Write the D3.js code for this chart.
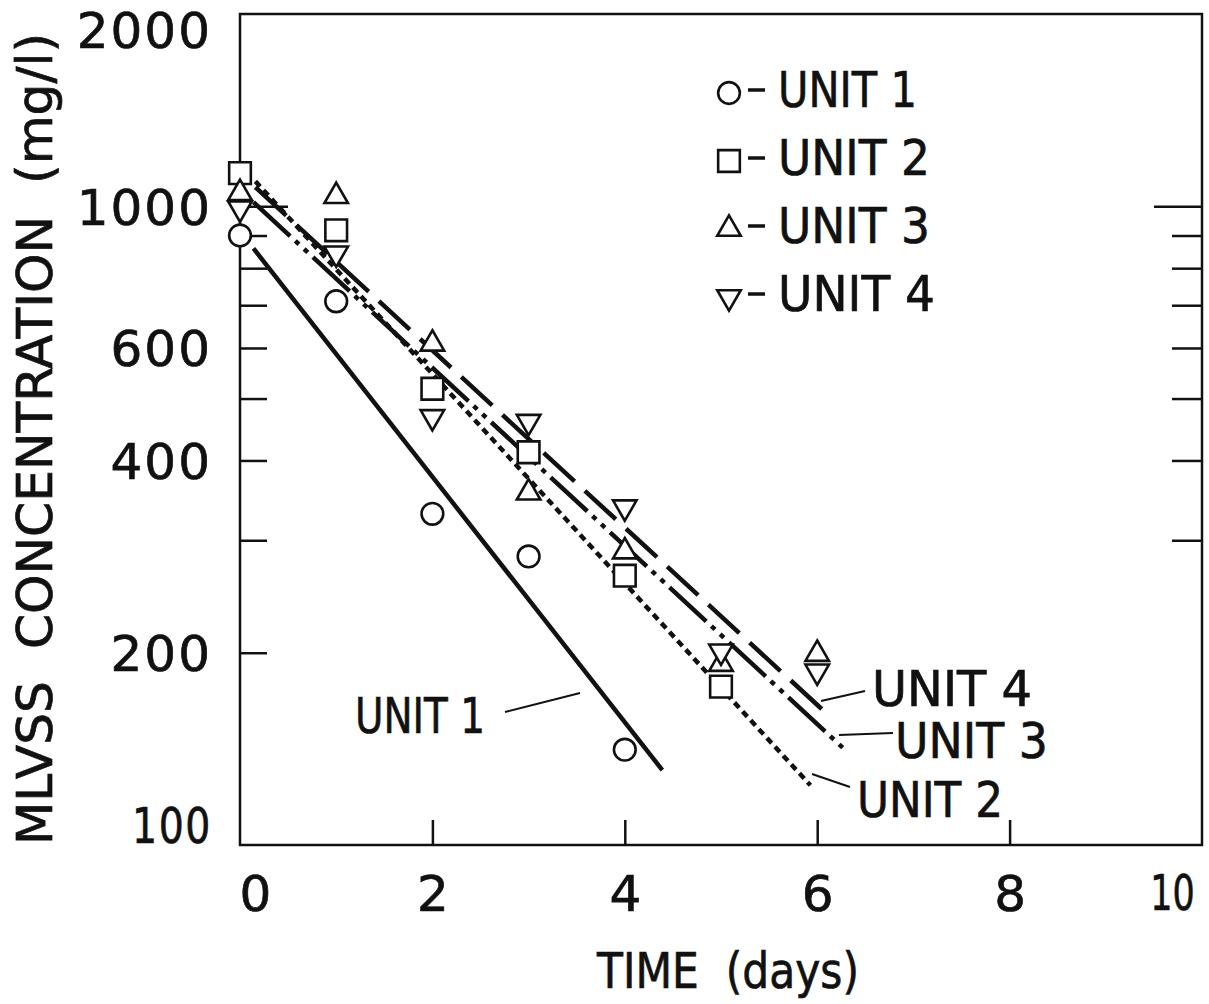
<!DOCTYPE html>
<html>
<head>
<meta charset="utf-8">
<script src="https://cdn.jsdelivr.net/npm/d3@7"></script>
<style>
  body { margin: 0; background: #fff; }
  text { font-family: "DejaVu Sans", sans-serif; fill: #111; stroke: #111; stroke-width: 0.7px; }
</style>
</head>
<body>
<div id="canvas"></div>
<script>
// measured points, MLVSS mg/l per day
let days = [0, 1, 2, 3, 4, 5, 6];
let unit1 = [900, 710, 330, 283, 141];
let unit2 = [1127, 917, 518, 412, 264, 177];
let unit3 = [1048, 1037, 609, 356, 288, 192, 199];
let unit4 = [993, 844, 468, 460, 338, 201, 187];

// fitted decay lines: [day, mg/l] at start and end
let fit1 = [[0.14, 859], [4.39, 131]];
let fit2 = [[0.16, 1094], [5.93, 124]];
let fit3 = [[0.14, 1015], [6.31, 140]];
let fit4 = [[0.16, 1071], [6.13, 159]];

let unitNames = ["UNIT 1", "UNIT 2", "UNIT 3", "UNIT 4"];
let xTicks = [0, 2, 4, 6, 8, 10];
let xInnerTicks = [2, 4, 6, 8];
let yLabels = [100, 200, 400, 600, 1000, 2000];
let yLeftTicks = [200, 300, 400, 500, 600, 700, 800, 900, 1000];
let yRightTicks = [300, 400, 500, 600, 700, 800, 900, 1000];

const W = 1209, H = 1004;
const svg = d3.select("#canvas").append("svg")
    .attr("width", W).attr("height", H);
svg.append("rect").attr("width", W).attr("height", H).attr("fill", "#fff");

const x = d3.scaleLinear().domain([0, 10]).range([240, 1202]);
const y = d3.scaleLog().domain([100, 2000]).range([845, 14]);

const ink = "#111";

// frame
svg.append("rect")
    .attr("x", x(0)).attr("y", y(2000))
    .attr("width", x(10) - x(0)).attr("height", y(100) - y(2000))
    .attr("fill", "none").attr("stroke", ink).attr("stroke-width", 2.5);

// inward ticks, left
svg.append("g")
    .attr("transform", `translate(${x(0)},0)`)
    .call(d3.axisRight(y).tickValues(yLeftTicks).tickFormat("").tickSizeOuter(0)
        .tickSize(27))
    .call(g => g.select(".domain").remove())
    .call(g => g.selectAll(".tick line").attr("stroke", ink).attr("stroke-width", 2.5)
        .attr("x2", d => d === 1000 ? 48 : 27));

// inward ticks, right
svg.append("g")
    .attr("transform", `translate(${x(10)},0)`)
    .call(d3.axisLeft(y).tickValues(yRightTicks).tickFormat("").tickSizeOuter(0)
        .tickSize(30))
    .call(g => g.select(".domain").remove())
    .call(g => g.selectAll(".tick line").attr("stroke", ink).attr("stroke-width", 2.5)
        .attr("x2", d => d === 1000 ? -48 : -30));

// inward ticks, bottom
svg.append("g")
    .attr("transform", `translate(0,${y(100)})`)
    .call(d3.axisTop(x).tickValues(xInnerTicks).tickFormat("").tickSizeOuter(0).tickSize(25))
    .call(g => g.select(".domain").remove())
    .call(g => g.selectAll(".tick line").attr("stroke", ink).attr("stroke-width", 2.5));

// y labels
let yAxis = svg.append("g")
    .attr("transform", `translate(${x(0)},0)`)
    .call(d3.axisLeft(y).tickValues(yLabels).tickFormat(d3.format("d")).tickSize(0).tickPadding(28))
    .call(g => g.select(".domain").remove());
yAxis.selectAll("text")
    .attr("font-size", 50)
    .attr("letter-spacing", 2)
    .attr("fill", ink)
    .attr("font-family", "DejaVu Sans")
    .attr("dy", d => d === 100 ? "-0.02em" : d === 2000 ? "0.66em" : "0.36em")
    .attr("transform", d => d === 100 ? "translate(0,-2)" : null)
    .attr("textLength", d => d === 100 ? 80 : null)
    .attr("lengthAdjust", "spacingAndGlyphs");

// x labels
let xAxis = svg.append("g")
    .attr("transform", `translate(0,${y(100)})`)
    .call(d3.axisBottom(x).tickValues(xTicks).tickFormat(d3.format("d")).tickSize(0).tickPadding(30))
    .call(g => g.select(".domain").remove());
xAxis.selectAll("text")
    .attr("font-size", 50)
    .attr("fill", ink)
    .attr("font-family", "DejaVu Sans")
    .attr("dx", d => d === 0 ? 15 : 0)
    .attr("transform", d => d === 10 ? "translate(-30,0) scale(0.7,1)" : null);

// axis titles
svg.append("text")
    .attr("transform", "translate(52,439) rotate(-90)")
    .attr("text-anchor", "middle")
    .attr("font-size", 49)
    .attr("textLength", 812)
    .attr("lengthAdjust", "spacingAndGlyphs")
    .text("MLVSS\u00a0\u00a0CONCENTRATION\u00a0\u00a0(mg/l)");

svg.append("text")
    .attr("x", 728).attr("y", 988)
    .attr("text-anchor", "middle")
    .attr("font-size", 50)
    .attr("textLength", 262)
    .attr("lengthAdjust", "spacingAndGlyphs")
    .text("TIME\u00a0\u00a0(days)");

// fitted lines
const line = d3.line().x(d => x(d[0])).y(d => y(d[1]));
const fits = [
    { data: fit1, dash: null },
    { data: fit2, dash: "7,5" },
    { data: fit3, dash: "50,7,5,7,5,7" },
    { data: fit4, dash: "42,14" }
];
svg.append("g").selectAll("path")
    .data(fits)
    .join("path")
    .attr("d", d => line(d.data))
    .attr("fill", "none")
    .attr("stroke", ink)
    .attr("stroke-width", 4.5)
    .attr("stroke-dasharray", d => d.dash);

// markers
const shapes = [
    d3.symbol().type(d3.symbolCircle).size(370),
    d3.symbol().type(d3.symbolSquare).size(470),
    d3.symbol().type(d3.symbolTriangle).size(240),
    d3.symbol().type(d3.symbolTriangle).size(240)
];
const rot = [0, 0, 0, 180];
[unit1, unit2, unit3, unit4].forEach((vals, k) => {
    svg.append("g").selectAll("path")
        .data(vals)
        .join("path")
        .attr("d", shapes[k])
        .attr("transform", (d, i) => `translate(${x(days[i])},${y(d)}) rotate(${rot[k]})`)
        .attr("fill", "#fff")
        .attr("stroke", ink)
        .attr("stroke-width", 2.6);
});

// legend
const legend = svg.append("g");
const legendWidths = [139, 152, 152, 157];
unitNames.forEach((name, k) => {
    const cy = 93 + k * 68;
    legend.append("path")
        .attr("d", shapes[k])
        .attr("transform", `translate(729,${cy}) rotate(${rot[k]})`)
        .attr("fill", "#fff").attr("stroke", ink).attr("stroke-width", 2.6);
    legend.append("line")
        .attr("x1", 748).attr("x2", 765).attr("y1", cy - 3).attr("y2", cy - 3)
        .attr("stroke", ink).attr("stroke-width", 3.5);
    legend.append("text")
        .attr("x", 778).attr("y", cy + 14)
        .attr("font-size", 50)
        .attr("textLength", legendWidths[k])
        .attr("lengthAdjust", "spacingAndGlyphs")
        .text(name);
});

// line labels with leaders
const notes = [
    { name: unitNames[0], tx: 355, ty: 733, w: 130, l: [505, 712, 580, 693] },
    { name: unitNames[1], tx: 857, ty: 817, w: 146, l: [812, 774, 850, 787] },
    { name: unitNames[2], tx: 895, ty: 758, w: 153, l: [839, 735, 893, 733] },
    { name: unitNames[3], tx: 872, ty: 706, w: 160, l: [821, 701, 865, 691] }
];
notes.forEach(n => {
    svg.append("line")
        .attr("x1", n.l[0]).attr("y1", n.l[1]).attr("x2", n.l[2]).attr("y2", n.l[3])
        .attr("stroke", ink).attr("stroke-width", 2);
    svg.append("text")
        .attr("x", n.tx).attr("y", n.ty)
        .attr("font-size", 49)
        .attr("textLength", n.w)
        .attr("lengthAdjust", "spacingAndGlyphs")
        .text(n.name.replace(" ", "\u00a0"));
});
</script>
</body>
</html>
